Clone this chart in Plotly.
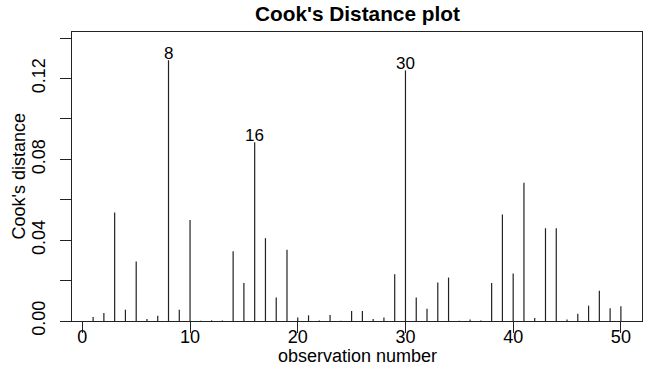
import plotly.graph_objects as go

obs = list(range(1, 51))
cooks_d = [0.0020, 0.0040, 0.0537, 0.0056, 0.0294, 0.0010, 0.0026, 0.1290, 0.0056, 0.0500,
           0.0001, 0.0003, 0.0003, 0.0345, 0.0188, 0.0885, 0.0410, 0.0116, 0.0353, 0.0017,
           0.0028, 0.0002, 0.0030, 0.0001, 0.0050, 0.0050, 0.0010, 0.0017, 0.0231, 0.1240,
           0.0116, 0.0061, 0.0190, 0.0215, 0.0001, 0.0007, 0.0003, 0.0188, 0.0527, 0.0235,
           0.0684, 0.0015, 0.0459, 0.0459, 0.0008, 0.0036, 0.0076, 0.0150, 0.0063, 0.0073]
labelled = [8, 16, 30]

y_tickvals = [0.00, 0.02, 0.04, 0.06, 0.08, 0.10, 0.12, 0.14]
y_ticktext = ["0.00", "", "0.04", "", "0.08", "", "0.12", ""]
x_tickvals = [0, 10, 20, 30, 40, 50]

FONT = "Liberation Sans, Arial, sans-serif"

xs, ys = [], []
for o, d in zip(obs, cooks_d):
    xs += [o, o, None]
    ys += [0, d, None]

fig = go.Figure()
fig.add_trace(go.Scatter(x=xs, y=ys, mode="lines",
                         line=dict(color="#222222", width=1.2),
                         hoverinfo="skip", showlegend=False))

for o in labelled:
    fig.add_annotation(x=o, y=cooks_d[o - 1], text=str(o), showarrow=False,
                       xanchor="center", yanchor="bottom", yshift=-5,
                       font=dict(family=FONT, size=17, color="black"))

# title and axis titles as paper-anchored annotations
fig.add_annotation(x=0.5, y=1, xref="paper", yref="paper", text="<b>Cook's Distance plot</b>",
                   showarrow=False, xanchor="center", yanchor="middle", yshift=19,
                   font=dict(family=FONT, size=20.8, color="black"))
fig.add_annotation(x=0.5, y=0, xref="paper", yref="paper", text="observation number",
                   showarrow=False, xanchor="center", yanchor="middle", yshift=-35,
                   font=dict(family=FONT, size=18, color="black"))
fig.add_annotation(x=0, y=0.5, xref="paper", yref="paper", text="Cook's distance",
                   showarrow=False, xanchor="center", yanchor="middle", xshift=-54,
                   textangle=-90, font=dict(family=FONT, size=18, color="black"))

fig.update_layout(
    width=656, height=376,
    margin=dict(l=72, r=14, t=32, b=55),
    paper_bgcolor="white", plot_bgcolor="white",
    font=dict(family=FONT, size=18, color="black"),
)
fig.update_xaxes(range=[-0.96, 51.96], tickvals=x_tickvals, ticks="outside", ticklen=11,
                 tickcolor="#222", showline=True, linecolor="#222", linewidth=1, mirror=True,
                 showgrid=False, zeroline=False, automargin=False, ticklabelstandoff=-12,
                 tickfont=dict(family=FONT, size=18))
fig.update_yaxes(range=[0, 0.143], tickvals=y_tickvals, ticktext=y_ticktext,
                 ticks="outside", ticklen=11, tickcolor="#222", tickangle=-90,
                 showline=True, linecolor="#222", linewidth=1, mirror=True,
                 showgrid=False, zeroline=False, automargin=False, ticklabelstandoff=8,
                 tickfont=dict(family=FONT, size=18))

# remove the default page margin so the figure sits at the window's top-left corner
fig.write_html("out.html", config={"displayModeBar": False},
               post_script="document.body.style.margin='0';")
